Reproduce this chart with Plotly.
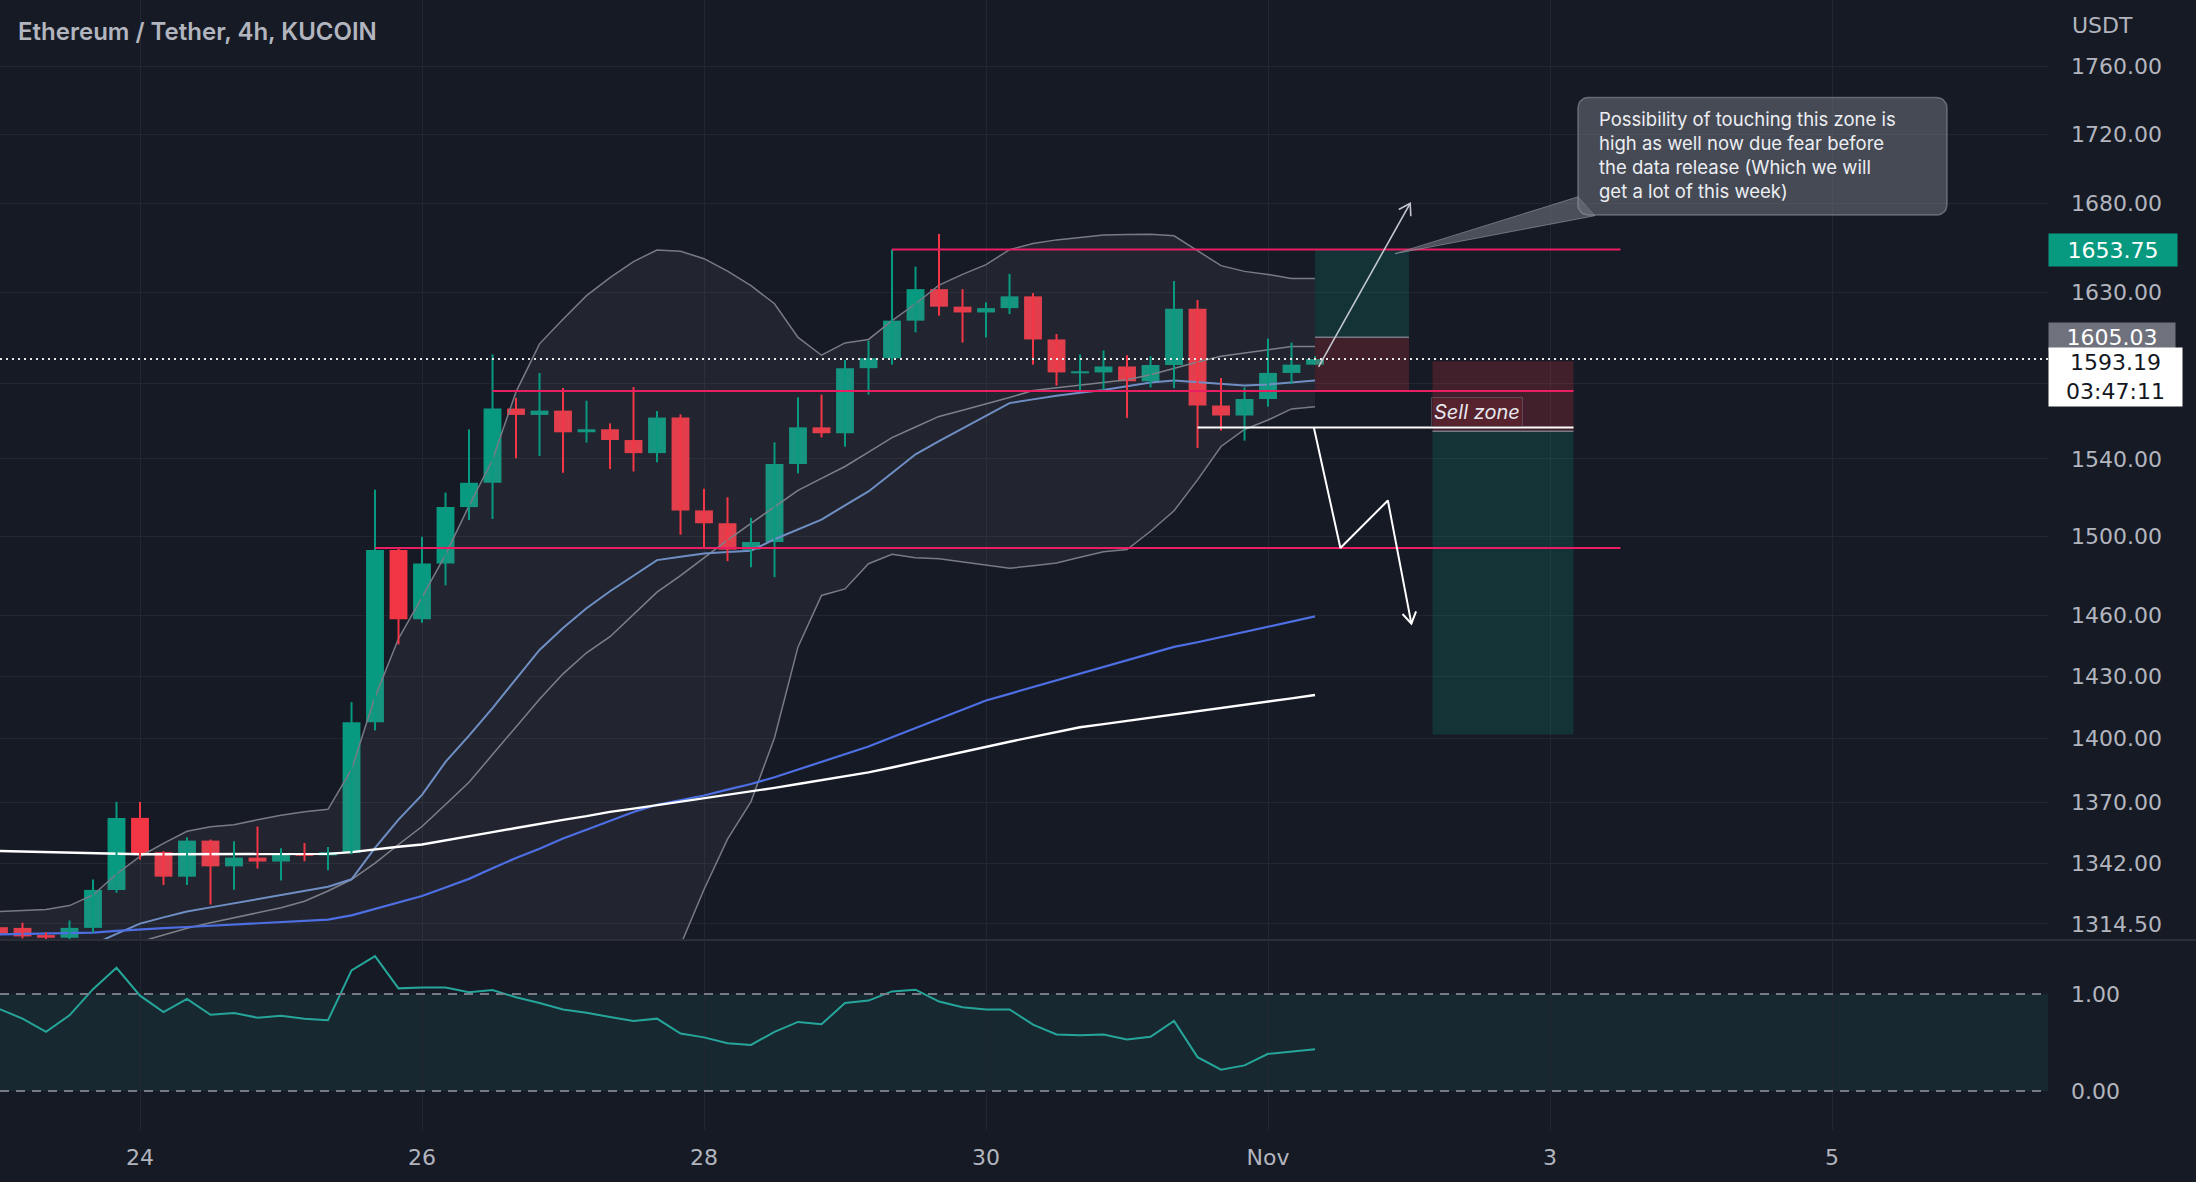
import math
from datetime import datetime, timedelta
import plotly.graph_objects as go

# ---------------- data (4h bars, ETH/USDT, KuCoin) ----------------
T0 = datetime(2022, 10, 23, 0, 0)
BAR_HOURS = 4

open_ = [1313.0, 1312.7, 1309.5, 1308.3, 1312.7, 1329.8, 1362.8, 1347.0, 1335.8, 1352.3,
         1340.5, 1344.5, 1342.7, 1346.5, 1345.5, 1346.6, 1407.9, 1492.9, 1458.2, 1486.1,
         1514.9, 1527.5, 1566.6, 1563.2, 1565.5, 1554.0, 1555.6, 1549.9, 1543.0, 1561.8,
         1513.2, 1506.6, 1493.1, 1497.0, 1537.3, 1556.6, 1553.5, 1588.3, 1593.7, 1614.2,
         1631.6, 1621.9, 1618.7, 1621.1, 1627.6, 1603.9, 1585.5, 1586.0, 1589.2, 1581.2,
         1590.0, 1620.8, 1568.2, 1562.9, 1571.7, 1585.7, 1590.2]
high = [1314.5, 1315.0, 1310.7, 1316.0, 1334.5, 1370.3, 1370.2, 1347.4, 1353.8, 1352.8,
        1352.0, 1358.8, 1348.8, 1351.2, 1349.3, 1417.6, 1523.9, 1494.0, 1499.7, 1522.4,
        1555.5, 1595.7, 1572.3, 1585.7, 1577.6, 1570.8, 1558.7, 1578.1, 1565.3, 1563.5,
        1524.4, 1520.0, 1509.4, 1548.7, 1572.6, 1574.0, 1592.7, 1603.2, 1653.75, 1644.1,
        1662.6, 1631.6, 1624.3, 1640.1, 1629.4, 1606.9, 1595.7, 1597.9, 1595.3, 1594.8,
        1636.1, 1625.6, 1583.0, 1577.9, 1604.4, 1602.2, 1594.8]
low = [1308.0, 1308.0, 1307.5, 1307.5, 1310.4, 1328.5, 1343.5, 1332.0, 1332.0, 1323.2,
       1329.9, 1339.5, 1334.0, 1342.8, 1338.7, 1346.0, 1404.0, 1445.7, 1456.4, 1475.1,
       1508.2, 1508.8, 1540.3, 1541.5, 1532.7, 1548.6, 1534.7, 1533.4, 1538.2, 1500.7,
       1494.4, 1487.3, 1484.2, 1479.2, 1532.4, 1551.3, 1546.4, 1574.0, 1590.2, 1607.8,
       1616.9, 1602.2, 1605.0, 1617.8, 1590.2, 1578.9, 1575.8, 1575.8, 1561.6, 1577.9,
       1577.5, 1545.7, 1554.9, 1549.6, 1567.6, 1579.8, 1590.0]
close = [1310.0, 1308.9, 1308.3, 1312.7, 1329.8, 1362.8, 1346.5, 1335.8, 1352.3, 1340.5,
         1344.5, 1342.7, 1346.5, 1345.3, 1347.0, 1407.9, 1492.9, 1458.2, 1486.1, 1514.9,
         1527.5, 1566.6, 1563.2, 1565.5, 1554.0, 1555.6, 1549.9, 1543.0, 1561.8, 1513.2,
         1506.6, 1493.1, 1497.0, 1537.3, 1556.6, 1553.5, 1588.3, 1593.7, 1614.2, 1631.6,
         1621.9, 1618.7, 1621.1, 1627.6, 1603.9, 1586.0, 1586.6, 1589.2, 1581.2, 1590.0,
         1620.8, 1568.2, 1562.9, 1571.7, 1585.7, 1590.2, 1593.19]

bb_upper = [1320, 1320.5, 1321, 1322.7, 1327.5, 1337, 1345, 1351, 1356.6, 1358.7,
            1359.6, 1361.9, 1364, 1365.7, 1366.8, 1385.5, 1420, 1448.6, 1469, 1490.6,
            1515.6, 1539.5, 1575.5, 1601.5, 1615, 1628, 1638, 1647, 1653.5, 1652.8,
            1648.6, 1641.6, 1633.5, 1623.5, 1605, 1595.3, 1602, 1603.9, 1614.2, 1623.5,
            1633.8, 1639.8, 1645.3, 1653.7, 1657.1, 1659.2, 1660.6, 1661.9, 1662.3, 1662.4,
            1661.5, 1653.1, 1644.7, 1641.5, 1639.8, 1637.5, 1637.5]
bb_basis = [1292, 1294, 1296, 1298, 1300, 1303, 1306.5, 1309.5, 1312.5, 1315,
            1317.2, 1319.5, 1321.7, 1324.7, 1329.3, 1334.5, 1342, 1350.5, 1358.8, 1369,
            1379.4, 1392.5, 1405.7, 1419, 1431.3, 1441.6, 1449.5, 1460.5, 1471.7, 1480,
            1489, 1498, 1506.5, 1515, 1523.6, 1529.8, 1536, 1543.5, 1551.2, 1556.8,
            1562.4, 1565.7, 1569, 1572.5, 1576.2, 1577.6, 1579, 1580.4, 1582, 1584.7,
            1588.3, 1591.6, 1594.8, 1596.6, 1598.4, 1600, 1600]
bb_lower = [1262, 1264, 1266, 1268, 1272, 1270, 1268, 1268, 1269, 1271,
            1275, 1277, 1279, 1283, 1291, 1283, 1264, 1252, 1248, 1247,
            1243, 1244, 1236, 1237, 1246, 1254, 1262, 1275, 1290, 1305,
            1330, 1353, 1370.4, 1400.5, 1444.5, 1470, 1473.3, 1486, 1490.8, 1489,
            1488.5, 1486.8, 1485.1, 1483.7, 1484.9, 1486.3, 1489.3, 1492, 1493.2, 1502.5,
            1513, 1529, 1546.5, 1555.5, 1560.5, 1566.4, 1567.5]
ema_fast = [1296, 1298, 1300, 1302.5, 1305.3, 1310, 1314.6, 1317.4, 1320, 1321.9,
            1323.8, 1325.7, 1327.5, 1329.2, 1331.2, 1334.6, 1349, 1362, 1373.5, 1389,
            1401.5, 1414.7, 1428.9, 1443, 1453.8, 1463.6, 1472.1, 1480, 1487.8, 1489.5,
            1491.2, 1491.9, 1492.6, 1498.4, 1503.5, 1508.5, 1515.8, 1523, 1532.6, 1542.4,
            1549.3, 1556, 1563, 1569.5, 1571.5, 1573.5, 1575, 1576.5, 1578.5, 1580.5,
            1581.6, 1580.8, 1580, 1579, 1579.5, 1580.6, 1581.7]
ema_mid = [1309.8, 1310, 1310.2, 1310.4, 1310.6, 1311.4, 1312.1, 1312.6, 1313.1, 1313.7,
           1314.3, 1314.8, 1315.3, 1315.8, 1316.4, 1318.3, 1321.2, 1324, 1327, 1330.9,
           1334.8, 1339.6, 1344.3, 1348.6, 1353.3, 1357.3, 1361.5, 1365.5, 1368.9, 1371,
           1373.2, 1376, 1378.6, 1381.8, 1385.4, 1389.1, 1392.7, 1396.3, 1400.7, 1405.1,
           1409.6, 1414, 1418.4, 1421.6, 1424.8, 1428.1, 1431.3, 1434.6, 1437.9, 1441.2,
           1444.5, 1446.8, 1449.3, 1451.8, 1454.5, 1457, 1459.6]
ema_slow = [1347.5, 1347.2, 1346.9, 1346.6, 1346.4, 1346.2, 1346, 1346, 1346, 1346,
            1346, 1346, 1346, 1346, 1346.2, 1347, 1348.3, 1349.5, 1350.5, 1352.3,
            1354.2, 1356.2, 1358.1, 1360.1, 1361.9, 1363.6, 1365.6, 1367.1, 1368.7, 1370.3,
            1371.9, 1373.4, 1375, 1376.8, 1378.6, 1380.4, 1382.3, 1384.1, 1386.4, 1388.9,
            1391.4, 1393.8, 1396.3, 1398.6, 1400.9, 1403.3, 1405.5, 1407, 1408.5, 1410.1,
            1411.6, 1413.1, 1414.7, 1416.3, 1417.8, 1419.4, 1421]
pct_b = [0.847, 0.746, 0.61, 0.78, 1.05, 1.27, 0.983, 0.814, 0.949, 0.786,
         0.803, 0.756, 0.776, 0.746, 0.729, 1.244, 1.39, 1.058, 1.068, 1.068,
         1.017, 1.041, 0.966, 0.908, 0.841, 0.807, 0.763, 0.722, 0.746, 0.593,
         0.553, 0.492, 0.475, 0.61, 0.712, 0.688, 0.908, 0.932, 1.027, 1.044,
         0.922, 0.864, 0.841, 0.841, 0.685, 0.583, 0.576, 0.583, 0.532, 0.559,
         0.722, 0.349, 0.22, 0.264, 0.383, 0.407, 0.43]

last_price = 1593.19
countdown = "03:47:11"
high_label = 1653.75
grey_label = 1605.03

x_tick_dates = [datetime(2022, 10, 24), datetime(2022, 10, 26), datetime(2022, 10, 28),
                datetime(2022, 10, 30), datetime(2022, 11, 1), datetime(2022, 11, 3),
                datetime(2022, 11, 5)]
x_tick_text = ["24", "26", "28", "30", "Nov", "3", "5"]
price_ticks = [1314.5, 1342, 1370, 1400, 1430, 1460, 1500, 1540, 1580, 1630, 1680, 1720, 1760]
price_tick_text = ["1314.50", "1342.00", "1370.00", "1400.00", "1430.00", "1460.00",
                   "1500.00", "1540.00", "", "1630.00", "1680.00", "1720.00", "1760.00"]

# drawings (bar index, price)
hlines = [(38, 69, 1653.75), (21, 67, 1576.0), (16, 69, 1494.0)]
long_tool = dict(i0=56, i1=60, target=1653.75, entry=1605.03, stop=1576.0)
short_tool = dict(i0=61, i1=67, stop=1592.0, entry=1554.6, target=1402.0)
white_hline = (51, 67, 1556.5)
up_arrow = [(56.15, 1589.0), (60.05, 1680.0)]
zigzag = [(55.95, 1556.5), (57.08, 1494.0), (59.1, 1518.3), (60.1, 1456.0)]
callout_box = (67.19, 1741.6, 82.89, 1673.3)
callout_wedge = [(67.19, 1683.7), (59.4, 1651.4), (67.91, 1672.9)]
callout_lines = ["Possibility of touching this zone is",
                 "high as well now due fear before",
                 "the data release (Which we will",
                 "get a lot of this week)"]
callout_text_pos = (68.0, 1707.9)
sell_label_pos = (62.91, 1565.0)

# ---------------- styling / geometry ----------------
BG = "#161a25"
GRID = "#222631"
TXT = "#b2b5be"
GREEN = "#089981"
RED = "#f23645"
FONT = "Inter, Roboto, sans-serif"
AXFONT = "DejaVu Sans, sans-serif"

X_LEFT, X_RIGHT = 0.0426, 87.19
P_BOT, P_TOP = 1307.3, 1800.4
PLOT_W, PLOT_H, PANE_H = 2048, 1130, 940
SPLIT = 1 - PANE_H / PLOT_H
LN_SPAN = math.log(P_TOP) - math.log(P_BOT)


def t(i):
    return T0 + timedelta(hours=BAR_HOURS * i)


def to_px(i, p):
    return ((i - X_LEFT) / (X_RIGHT - X_LEFT) * PLOT_W,
            (math.log(P_TOP) - math.log(p)) / LN_SPAN * PANE_H)


def from_px(x, y):
    return (X_LEFT + x / PLOT_W * (X_RIGHT - X_LEFT),
            math.exp(math.log(P_TOP) - y / PANE_H * LN_SPAN))


def arrow_head(tail, tip, size=13, ang=32):
    x0, y0 = to_px(*tail)
    x1, y1 = to_px(*tip)
    n = math.hypot(x1 - x0, y1 - y0)
    ux, uy = (x1 - x0) / n, (y1 - y0) / n
    pts = []
    for s in (1, -1):
        a = math.radians(ang * s)
        rx = ux * math.cos(a) - uy * math.sin(a)
        ry = ux * math.sin(a) + uy * math.cos(a)
        pts.append(from_px(x1 - size * rx, y1 - size * ry))
    return [pts[0], tip, pts[1]]


def rounded_rect(i0, p_top, i1, p_bot, r=10):
    x0, y0 = to_px(i0, p_top)
    x1, y1 = to_px(i1, p_bot)
    corners = [(x1 - r, y0 + r, -90, 0), (x1 - r, y1 - r, 0, 90),
               (x0 + r, y1 - r, 90, 180), (x0 + r, y0 + r, 180, 270)]
    pts = []
    for cx, cy, a0, a1 in corners:
        for k in range(8):
            a = math.radians(a0 + (a1 - a0) * k / 7)
            pts.append(from_px(cx + r * math.cos(a), cy + r * math.sin(a)))
    pts.append(pts[0])
    return pts


def poly(points, **kw):
    return go.Scatter(x=[t(i) for i, _ in points], y=[p for _, p in points],
                      xaxis="x", yaxis="y", hoverinfo="skip", **kw)


def rect(i0, i1, p0, p1, color):
    return poly([(i0, p0), (i1, p0), (i1, p1), (i0, p1), (i0, p0)], mode="lines",
                line=dict(width=0), fill="toself", fillcolor=color)


times = [t(i) for i in range(len(close))]
fig = go.Figure()

# ---------------- indicator pane (%B) ----------------
fig.add_shape(type="rect", xref="paper", x0=0, x1=1, yref="y2", y0=0, y1=1,
              fillcolor="rgba(38,166,154,0.10)", line=dict(width=0), layer="below")
for lvl in (0, 1):
    fig.add_shape(type="line", xref="paper", x0=0, x1=1, yref="y2", y0=lvl, y1=lvl,
                  line=dict(color="#787b86", width=2, dash="9px,7px"))
fig.add_trace(go.Scatter(x=times, y=pct_b, mode="lines", xaxis="x", yaxis="y2",
                         line=dict(color="#26a69a", width=2), hoverinfo="skip"))

# ---------------- price pane ----------------
fig.add_trace(go.Scatter(x=times, y=bb_lower, mode="lines", xaxis="x", yaxis="y",
                         line=dict(color="#787b86", width=1.5), hoverinfo="skip"))
fig.add_trace(go.Scatter(x=times, y=bb_upper, mode="lines", xaxis="x", yaxis="y",
                         fill="tonexty", fillcolor="rgba(120,123,134,0.12)",
                         line=dict(color="#787b86", width=1.5), hoverinfo="skip"))
fig.add_trace(go.Scatter(x=times, y=bb_basis, mode="lines", xaxis="x", yaxis="y",
                         line=dict(color="#7d8089", width=1.5), hoverinfo="skip"))
fig.add_trace(go.Scatter(x=times, y=ema_fast, mode="lines", xaxis="x", yaxis="y",
                         line=dict(color="#6f8fc4", width=2), hoverinfo="skip"))
fig.add_trace(go.Scatter(x=times, y=ema_mid, mode="lines", xaxis="x", yaxis="y",
                         line=dict(color="#4d6fe3", width=2.2), hoverinfo="skip"))
fig.add_trace(go.Scatter(x=times, y=ema_slow, mode="lines", xaxis="x", yaxis="y",
                         line=dict(color="#ffffff", width=2.4), hoverinfo="skip"))

# candles: wicks then bodies
for is_up, col in ((True, GREEN), (False, RED)):
    wx, wy = [], []
    for k in range(len(close)):
        if (close[k] >= open_[k]) == is_up:
            wx += [times[k], times[k], None]
            wy += [low[k], high[k], None]
    fig.add_trace(go.Scatter(x=wx, y=wy, mode="lines", xaxis="x", yaxis="y",
                             line=dict(color=col, width=2), hoverinfo="skip"))
body_base = [min(o, c) for o, c in zip(open_, close)]
body_len = [max(abs(c - o), 0.8) for o, c in zip(open_, close)]
body_col = [GREEN if c >= o else RED for o, c in zip(open_, close)]
fig.add_trace(go.Bar(x=times, y=body_len, base=body_base, xaxis="x", yaxis="y",
                     width=0.76 * BAR_HOURS * 3600 * 1000,
                     marker=dict(color=body_col, line=dict(width=0)), hoverinfo="skip"))

# ---------------- drawings ----------------
lt = long_tool
fig.add_trace(rect(lt["i0"], lt["i1"], lt["entry"], lt["target"], "rgba(8,153,129,0.20)"))
fig.add_trace(rect(lt["i0"], lt["i1"], lt["stop"], lt["entry"], "rgba(242,54,69,0.20)"))
fig.add_trace(poly([(lt["i0"], lt["entry"]), (lt["i1"], lt["entry"])], mode="lines",
                   line=dict(color="#787b86", width=1.5)))
st = short_tool
fig.add_trace(rect(st["i0"], st["i1"], st["entry"], st["stop"], "rgba(242,54,69,0.20)"))
fig.add_trace(rect(st["i0"], st["i1"], st["target"], st["entry"], "rgba(8,153,129,0.20)"))
fig.add_trace(poly([(st["i0"], st["entry"]), (st["i1"], st["entry"])], mode="lines",
                   line=dict(color="#787b86", width=1.5)))

for i0, i1, p in hlines:
    fig.add_trace(poly([(i0, p), (i1, p)], mode="lines", line=dict(color="#e91e63", width=2)))
fig.add_trace(poly([(white_hline[0], white_hline[2]), (white_hline[1], white_hline[2])],
                   mode="lines", line=dict(color="#ffffff", width=2)))

fig.add_trace(poly(up_arrow, mode="lines", line=dict(color="#c3c6ce", width=1.6)))
fig.add_trace(poly(arrow_head(up_arrow[0], up_arrow[1]), mode="lines",
                   line=dict(color="#c3c6ce", width=1.6)))
fig.add_trace(poly(zigzag, mode="lines", line=dict(color="#ffffff", width=2)))
fig.add_trace(poly(arrow_head(zigzag[-2], zigzag[-1]), mode="lines",
                   line=dict(color="#ffffff", width=2)))

fig.add_trace(poly(callout_wedge + [callout_wedge[0]], mode="lines", fill="toself",
                   fillcolor="rgba(120,123,134,0.55)",
                   line=dict(color="rgba(150,153,163,0.6)", width=1)))
fig.add_trace(poly(rounded_rect(*callout_box), mode="lines", fill="toself",
                   fillcolor="rgba(112,115,126,0.55)",
                   line=dict(color="rgba(150,153,163,0.55)", width=1.5)))

fig.add_trace(go.Scatter(x=[t(X_LEFT), t(X_RIGHT)], y=[last_price, last_price], mode="lines",
                         xaxis="x", yaxis="y", line=dict(color="#e8e8e8", width=2, dash="2px,4px"),
                         hoverinfo="skip"))

# ---------------- annotations ----------------
ann = []
ann.append(dict(xref="paper", yref="paper", x=16 / PLOT_W, y=1 - 31 / PLOT_H,
                xanchor="left", yanchor="middle", showarrow=False,
                text="Ethereum / Tether, 4h, KUCOIN",
                font=dict(family=FONT, size=24, color=TXT, weight=600)))
ann.append(dict(xref="paper", yref="paper", x=2070 / PLOT_W, y=1 - 25 / PLOT_H,
                xanchor="left", yanchor="middle", showarrow=False, text="USDT",
                font=dict(family=AXFONT, size=22, color=TXT)))
ann.append(dict(xref="x", yref="y", x=t(callout_text_pos[0]), y=math.log10(callout_text_pos[1]),
                xanchor="left", yanchor="middle", align="left", showarrow=False,
                text="<br>".join(callout_lines),
                font=dict(family=FONT, size=18.5, color="#eceef2")))
ann.append(dict(xref="x", yref="y", x=t(sell_label_pos[0]), y=math.log10(sell_label_pos[1]),
                xanchor="center", yanchor="middle", showarrow=False, text="<i>Sell zone</i>",
                font=dict(family=FONT, size=20, color="#e6e8ee"),
                bgcolor="rgba(242,54,69,0.12)", bordercolor="rgba(120,123,134,0.45)",
                borderwidth=1, borderpad=2))
ann.append(dict(xref="paper", yref="y", x=1.0, y=math.log10(high_label), xanchor="left",
                yanchor="middle", showarrow=False, text=f"{high_label:.2f}",
                font=dict(family=AXFONT, size=22, color="#ffffff"), bgcolor=GREEN,
                width=122, height=26, borderpad=3, align="center"))
ann.append(dict(xref="paper", yref="y", x=1.0, y=math.log10(grey_label), xanchor="left",
                yanchor="middle", showarrow=False, text=f"{grey_label:.2f}",
                font=dict(family=AXFONT, size=22, color="#ffffff"), bgcolor="#6f727c",
                width=122, height=24, borderpad=2, align="center"))
ann.append(dict(xref="paper", yref="y", x=1.0, y=math.log10(last_price), xanchor="left",
                yanchor="top", yshift=12, showarrow=False,
                text=f"{last_price:.2f}<br>{countdown}",
                font=dict(family=AXFONT, size=22, color="#131722"), bgcolor="#ffffff",
                width=127, height=52, borderpad=3, align="center"))

fig.add_shape(type="line", xref="paper", yref="paper", x0=0, x1=2196 / PLOT_W,
              y0=SPLIT, y1=SPLIT, line=dict(color="#2a2e39", width=2))

axfont = dict(family=AXFONT, size=22, color=TXT)
fig.update_layout(
    width=2196, height=1182,
    margin=dict(l=0, r=148, t=0, b=52),
    paper_bgcolor=BG, plot_bgcolor=BG,
    showlegend=False, barmode="overlay", hovermode=False,
    annotations=ann,
    xaxis=dict(type="date", range=[t(X_LEFT), t(X_RIGHT)], domain=[0, 1], anchor="y2",
               tickmode="array", tickvals=x_tick_dates, ticktext=x_tick_text,
               showgrid=True, gridcolor=GRID, gridwidth=1, zeroline=False, showline=False,
               ticks="", ticklabelstandoff=12, fixedrange=True, tickfont=axfont),
    yaxis=dict(type="log", range=[math.log10(P_BOT), math.log10(P_TOP)], domain=[SPLIT, 1],
               side="right", anchor="x", tickmode="array", tickvals=price_ticks,
               ticktext=price_tick_text, showgrid=True, gridcolor=GRID, gridwidth=1,
               zeroline=False, showline=False, ticks="", ticklabelstandoff=22,
               tickfont=axfont, fixedrange=True),
    yaxis2=dict(range=[-0.4021, 1.5567], domain=[0, SPLIT], side="right", anchor="x",
                tickmode="array", tickvals=[0, 1], ticktext=["0.00", "1.00"],
                showgrid=False, zeroline=False, showline=False, ticks="",
                ticklabelstandoff=22, tickfont=axfont, fixedrange=True),
)

fig.write_html("out.html")
